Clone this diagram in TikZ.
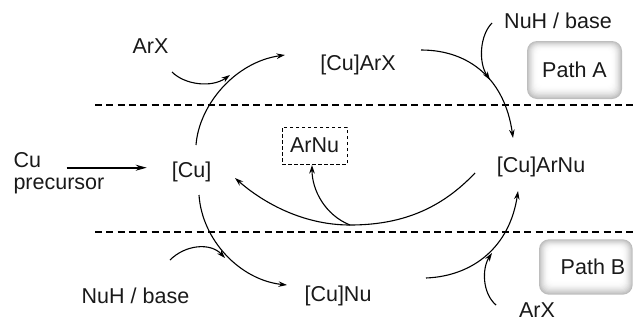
\documentclass[tikz,border=0pt]{standalone}
\usepackage{fontspec}
\setmainfont{Liberation Sans}
\usetikzlibrary{arrows.meta}
\newcommand\glowbox[4]{%
  \foreach \i in {0,...,12}{%
    \pgfmathsetmacro\c{26*(1-\i/12)^2}%
    \pgfmathsetmacro\r{max(10-0.5*\i,3)}%
    \fill[black!\c, rounded corners=\r pt] (#1+\i*0.9,#2+\i*0.8) rectangle (#3-\i*0.9,#4-\i*1.1);
  }}
\tikzset{
  lbl/.style={font=\fontsize{21.5}{22.3}\selectfont, inner sep=0pt, text=black!90},
  arr/.style={-{Stealth[length=8.5pt,width=5.5pt]}, line width=1.1pt},
  thickarr/.style={-{Stealth[length=11pt,width=6pt]}, line width=1.6pt},
  sep/.style={dashed, line width=1.6pt, dash pattern=on 7pt off 4.3pt},
  prodbox/.style={lbl, draw, line width=0.8pt, dash pattern=on 3.5pt off 2.5pt, minimum width=65pt, minimum height=37pt},
  pathbox/.style={lbl, minimum width=95pt, minimum height=56pt}
}
\begin{document}
\begin{tikzpicture}[x=1pt, y=-1pt]
\useasboundingbox (0,0) rectangle (634,322);
% separators
\draw[sep] (95,105) -- (634,105);
\draw[sep] (95,232) -- (634,232);
% path boxes
\glowbox{527}{41}{622}{99}
\glowbox{539}{239.3}{632.7}{294.7}
\node[pathbox] (pathA) at (574.5,70) {Path A};
\node[pathbox] (pathB) at (586,267) {\hspace*{14pt}Path B};
% labels
\node[lbl, anchor=base] (arx1) at (150.5,53) {ArX};
\node[lbl, anchor=base] (cuarx) at (358,70) {[Cu]ArX};
\node[lbl, anchor=base] (nuh1) at (558,28) {NuH / base};
\node[lbl, anchor=north west, align=left] (cuprec) at (13.3,152) {Cu\\precursor};
\node[lbl, anchor=base] (cu) at (191.7,177.7) {[Cu]};
\node[prodbox] (arnu) at (314.5,145.5) {ArNu};
\node[lbl, anchor=base] (cuarnu) at (541,172.3) {[Cu]ArNu};
\node[lbl, anchor=base] (cunu) at (338,301.7) {[Cu]Nu};
\node[lbl, anchor=base] (nuh2) at (135.5,303) {NuH / base};
\node[lbl, anchor=base] (arx2) at (537,317) {ArX};
% connector end points
\coordinate (prS) at (66.7,167.7);
\coordinate (prE) at (146.7,167.7);
\coordinate (cuN) at (196,145);
\coordinate (cuarxW) at (285,55);
\coordinate (arx1S) at (172,72);
\coordinate (j1) at (230,75);
\coordinate (cuarxE) at (421,50);
\coordinate (cuarnuN) at (513,138);
\coordinate (nuh1S) at (492,23);
\coordinate (j2) at (490,80);
\coordinate (cuS) at (199,195);
\coordinate (cunuW) at (287,285);
\coordinate (nuh2E) at (170,260);
\coordinate (j3) at (225,258);
\coordinate (cunuE) at (426,278);
\coordinate (cuarnuS) at (518,191);
\coordinate (arx2N) at (496,305);
\coordinate (j4) at (492,253);
\coordinate (cuarnuW) at (475,173);
\coordinate (low) at (350,225);
\coordinate (cuE) at (235,178);
\coordinate (arnuS) at (312,165);
% connectors
\draw[thickarr] (prS) -- (prE);
\draw[arr] (cuN) .. controls (199,105) and (235,62) .. (cuarxW);
\draw[arr] (arx1S) .. controls (185,85) and (212,88) .. (j1);
\draw[arr] (cuarxE) .. controls (470,50) and (505,80) .. (cuarnuN);
\draw[arr] (nuh1S) .. controls (480,35) and (478,62) .. (j2);
\draw[arr] (cuS) .. controls (202,240) and (240,280) .. (cunuW);
\draw[arr] (nuh2E) .. controls (185,245) and (210,242) .. (j3);
\draw[arr] (cunuE) .. controls (475,276) and (510,245) .. (cuarnuS);
\draw[arr] (arx2N) .. controls (482,293) and (482,268) .. (j4);
\draw[arr] (cuarnuW) .. controls (440,210) and (400,225) .. (low) .. controls (300,225) and (260,200) .. (cuE);
\draw[arr] (low) .. controls (325,215) and (312,190) .. (arnuS);
\end{tikzpicture}
\end{document}
